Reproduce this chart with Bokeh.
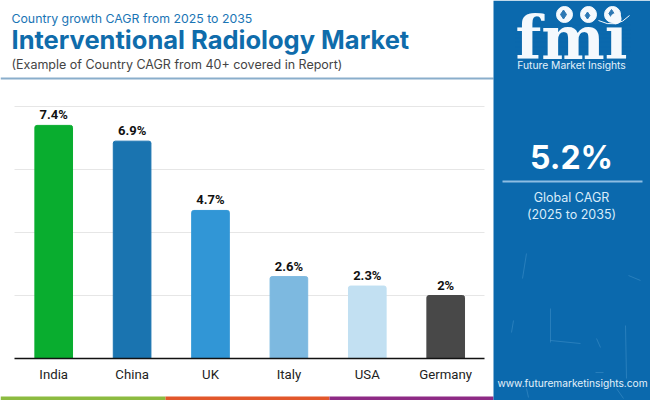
from bokeh.plotting import figure
from bokeh.models import ColumnDataSource, Label, BoxAnnotation, Range1d, FixedTicker
from bokeh.embed import file_html
from bokeh.resources import INLINE

countries = ["India", "China", "UK", "Italy", "USA", "Germany"]
cagr = [7.4, 6.9, 4.7, 2.6, 2.3, 2.0]
value_labels = ["7.4%", "6.9%", "4.7%", "2.6%", "2.3%", "2%"]
bar_colors = ["#09ad2f", "#1a74b0", "#3196d6", "#7db9e0", "#c2e0f2", "#484848"]
y_ticks = [2, 4, 6, 8]

W, H = 650, 400
BLUE = "#0b69ad"
positions = list(range(len(countries)))
STEP = 78.4   # px per category
UNIT = 31.5   # px per percent
X0, BASE = 14, 358


def dx(px):
    return -0.5 + (px - X0) / STEP


def dy(py):
    return (BASE - py) / UNIT


p = figure(width=W, height=H,
           x_range=Range1d(dx(0), dx(W)),
           y_range=Range1d(dy(H), dy(0)),
           output_backend="svg", toolbar_location=None,
           min_border_left=0, min_border_right=0, min_border_top=0, min_border_bottom=0)
p.outline_line_color = None
p.background_fill_color = "white"
p.border_fill_color = "white"
p.yaxis.visible = False
p.xgrid.visible = False
p.ygrid.ticker = FixedTicker(ticks=y_ticks)
p.ygrid.grid_line_color = "#e6e6e6"
p.ygrid.grid_line_width = 1
p.ygrid.cross_bounds = (-0.5, 5.5)
p.xaxis.fixed_location = 0
p.xaxis.bounds = (-0.5, 5.5)
p.xaxis.ticker = FixedTicker(ticks=positions)
p.xaxis.major_label_overrides = {i: c for i, c in zip(positions, countries)}
p.xaxis.axis_line_color = "#111111"
p.xaxis.axis_line_width = 1.5
p.xaxis.major_tick_line_color = None
p.xaxis.minor_tick_line_color = None
p.xaxis.major_label_text_font = "Roboto"
p.xaxis.major_label_text_font_size = "13.2px"
p.xaxis.major_label_text_color = "#222222"
p.xaxis.major_label_standoff = 2

src = ColumnDataSource(dict(x=positions, top=cagr, color=bar_colors, label=value_labels))
p.vbar(x="x", top="top", width=0.48, color="color", source=src, border_radius=(2, 2, 0, 0))
p.text(x="x", y="top", text="label", source=src, text_align="center", text_baseline="bottom",
       y_offset=-3, text_font={"value": "Roboto"}, text_font_style="bold",
       text_font_size="13px", text_color="#111111")


def box(x0, y0, x1, y1, color, radius=0, alpha=1.0):
    b = BoxAnnotation(left=x0, right=x1, top=H - y0, bottom=H - y1,
                      left_units="screen", right_units="screen", top_units="screen", bottom_units="screen",
                      fill_color=color, fill_alpha=alpha, line_color=None, level="underlay",
                      border_radius=radius)
    p.add_layout(b)


def text(x, y, s, size, color, font="Inter", style="normal", align="left"):
    p.add_layout(Label(x=x, y=H - y, x_units="screen", y_units="screen", text=s,
                       text_font=font, text_font_size=f"{size}px", text_font_style=style,
                       text_color=color, text_align=align, text_baseline="middle", level="overlay"))


# header
text(11, 18, "Country growth CAGR from 2025 to 2035", 12.3, "#1a75b5")
text(11, 39, "Interventional Radiology Market", 25.5, "#0f6cab", style="bold")
text(11, 64, "(Example of Country CAGR from 40+ covered in Report)", 12.5, "#444444")
box(0, 77, 493, 79, "#8aaecb")

# footer stripes
box(0, 396, 165, 400, "#8cbb40")
box(165, 396, 329, 400, "#e2572b")
box(329, 396, 493, 400, "#8e2a85")

# side panel
box(493, 0, 650, 400, BLUE)
box(502, 180, 642, 182, "#8dbde3")

# faint scratches on the side panel
scratches = [((526, 253), (522, 278)), ((628, 275), (640, 280)), ((625, 325), (626, 378)),
             ((550, 308), (550, 342)), ((550, 340), (580, 343)), ((513, 320), (511, 332)),
             ((595, 372), (603, 372)), ((596, 338), (600, 347)), ((616, 388), (623, 398)),
             ((526, 388), (528, 397))]
p.segment([dx(a[0]) for a, b in scratches], [dy(a[1]) for a, b in scratches],
          [dx(b[0]) for a, b in scratches], [dy(b[1]) for a, b in scratches],
          line_color="#5fa6d6", line_alpha=0.35, line_width=1, level="annotation")

text(571, 157, "5.2%", 32, "white", style="bold", align="center")
text(571, 197, "Global CAGR", 12.5, "#d9ecfa", align="center")
text(571, 214, "(2025 to 2035)", 12.5, "#d9ecfa", align="center")
text(572, 382, "www.futuremarketinsights.com", 10.2, "#e4f1fb", align="center")

# logo
text(571, 37, "fmi", 60, "#f4f9fd", font="DejaVu Serif", style="bold", align="center")
stripe_rows = [24.5, 29.5, 33.5, 37.5, 41.5, 46.5, 50.5]
p.segment([dx(515)] * 7, [dy(v) for v in stripe_rows],
          [dx(630)] * 7, [dy(v) for v in stripe_rows],
          line_color=BLUE, line_width=1.2, level="overlay")
# globes
p.scatter([dx(v) for v in (564, 588, 612)], [dy(14)] * 3, size=19, color=BLUE, level="overlay")
p.scatter([dx(v) for v in (564, 588, 612)], [dy(14)] * 3, size=16, color="#f4f9fd", level="overlay")
p.scatter([dx(v) for v in (563, 587, 611)], [dy(v) for v in (14, 15, 13)], size=[9, 7, 8],
          color="#2c78b4", marker="diamond", level="overlay")
p.quadratic(dx(598), dy(20), dx(629), dy(15), dx(616), dy(29), line_color="#f4f9fd",
            line_width=1, level="overlay")
text(571, 64, "Future Market Insights", 10.3, "#e4f1fb", align="center")

open("out.html", "w").write(file_html(p, INLINE))
